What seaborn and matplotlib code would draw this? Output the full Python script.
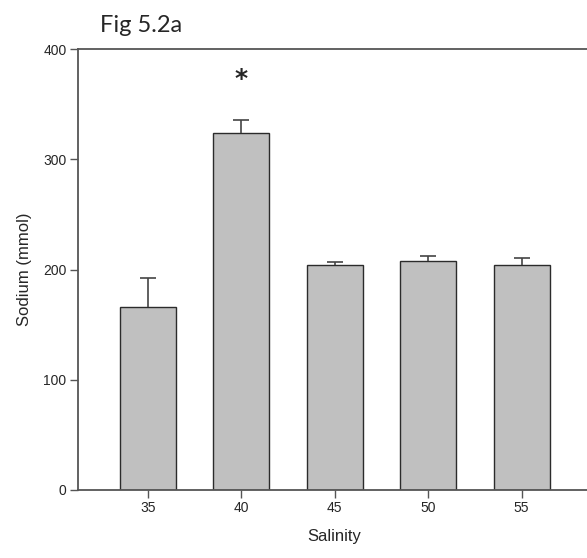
import matplotlib

matplotlib.use("Agg")
import matplotlib.pyplot as plt
import numpy as np
import seaborn as sns

# values
SALINITY = ["35", "40", "45", "50", "55"]
SODIUM = [166, 324, 204, 208, 204]
SODIUM_SE = [26, 12, 2.5, 4, 7]
STAR_LABEL = "*"
STAR_Y = 373

BAR_COLOR = "#C0C0C0"
EDGE_COLOR = "#2b2b2b"
AXIS_COLOR = "#555555"

sns.set_theme(style="white")
plt.rcParams["font.family"] = ["Liberation Sans", "DejaVu Sans"]

fig = plt.figure(figsize=(5.87, 5.58), dpi=100)
ax = fig.add_axes([0.1324, 0.1219, 0.8756, 0.7897])

sns.barplot(x=SALINITY, y=SODIUM, color=BAR_COLOR, width=0.6, edgecolor=EDGE_COLOR, linewidth=1.0, saturation=1, ax=ax)

# upper-only error bars, drop the cap that sits on the bar top
xpos = np.arange(len(SALINITY))
_, caps, _ = ax.errorbar(
    xpos,
    SODIUM,
    yerr=[np.zeros(len(SODIUM)), SODIUM_SE],
    fmt="none",
    ecolor="#444444",
    elinewidth=1.2,
    capsize=5.5,
    capthick=1.2,
)
caps[0].set_visible(False)

ax.text(1, STAR_Y, STAR_LABEL, ha="center", va="center", fontsize=18, fontweight="bold", family=["DejaVu Sans"])

ax.set_xlim(-0.75, 4.75)
ax.set_ylim(0, 400)
ax.set_yticks([0, 100, 200, 300, 400])
ax.set_xlabel("Salinity", fontsize=12, labelpad=10)
ax.set_ylabel("Sodium (mmol)", fontsize=12, labelpad=8)
ax.tick_params(axis="both", direction="out", length=6, width=1, color=AXIS_COLOR, labelsize=10, pad=2,
               left=True, bottom=True)

for side in ["left", "top", "bottom", "right"]:
    ax.spines[side].set_color(AXIS_COLOR)
    ax.spines[side].set_linewidth(1.3)

fig.text(0.170, 0.943, "Fig 5.2a", fontsize=17, family=["Lato", "DejaVu Sans"], ha="left", va="baseline")

fig.savefig("out.png", dpi=100)
